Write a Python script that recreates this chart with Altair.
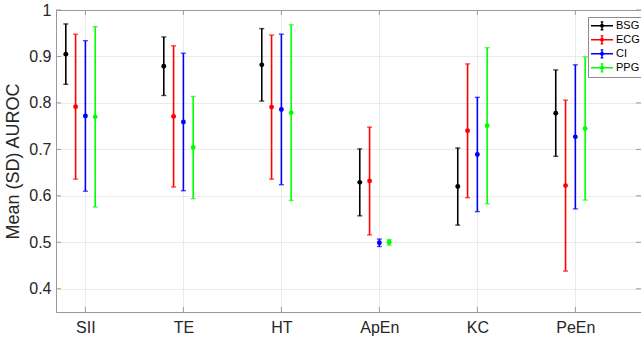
import json
import altair as alt
import pandas as pd

# ---- data ----
metrics = ["SII", "TE", "HT", "ApEn", "KC", "PeEn"]
signals = ["BSG", "ECG", "CI", "PPG"]
offsets = [-0.2, -0.1, 0.0, 0.1]
colors = ["#000000", "#ff0000", "#0000ff", "#00ff00"]

bsg_mean = [0.905, 0.879, 0.882, 0.629, 0.620, 0.778]
bsg_sd = [0.065, 0.063, 0.078, 0.072, 0.083, 0.093]
ecg_mean = [0.792, 0.771, 0.791, 0.632, 0.740, 0.622]
ecg_sd = [0.156, 0.152, 0.155, 0.116, 0.144, 0.184]
ci_mean = [0.772, 0.759, 0.786, 0.499, 0.689, 0.727]
ci_sd = [0.162, 0.148, 0.162, 0.008, 0.123, 0.155]
ppg_mean = [0.770, 0.704, 0.779, 0.500, 0.751, 0.745]
ppg_sd = [0.194, 0.110, 0.189, 0.006, 0.168, 0.154]

y_ticks = [0.4, 0.5, 0.6, 0.7, 0.8, 0.9, 1.0]
x_ticks = [1, 2, 3, 4, 5, 6]

means = [bsg_mean, ecg_mean, ci_mean, ppg_mean]
sds = [bsg_sd, ecg_sd, ci_sd, ppg_sd]

rows = []
for s, sig in enumerate(signals):
    for i, m in enumerate(metrics):
        mu = means[s][i]
        sd = sds[s][i]
        rows.append({"metric": m, "signal": sig, "x": x_ticks[i] + offsets[s],
                     "mean": mu, "lo": mu - sd, "hi": mu + sd})
df = pd.DataFrame(rows)

W, H = 585, 302
AX = "#9a9a9a"
TXT = "#262626"
FONT = "Liberation Sans"

label_expr = "%s[round(datum.value) - 1]" % json.dumps(metrics)

x_scale = alt.Scale(domain=[0.7, 6.67], nice=False, zero=False)
y_scale = alt.Scale(domain=[0.35, 1.0], nice=False, zero=False)

x_enc = alt.X("x:Q", scale=x_scale,
              axis=alt.Axis(values=x_ticks, labelExpr=label_expr, title=None,
                            ticks=False, labelPadding=7, labelFontSize=16,
                            labelColor=TXT, labelFont=FONT, grid=True,
                            gridColor="#ebebeb", domainColor=AX))
y_axis = alt.Axis(values=y_ticks, format=".1~f", title="Mean (SD) AUROC",
                  ticks=False, labelPadding=5, labelFontSize=16, labelColor=TXT,
                  labelFont=FONT, titleFontSize=18, titleFont=FONT,
                  titleColor=TXT, titleFontWeight="normal", titlePadding=6,
                  grid=True, gridColor="#ebebeb", domainColor=AX)

legend_path = ("M-1,0H1M0,-0.36V0.36M-0.12,-0.36H0.12M-0.12,0.36H0.12"
               "M-0.16,0L0,-0.16L0.16,0L0,0.16Z")
color_enc = alt.Color("signal:N", scale=alt.Scale(domain=signals, range=colors),
                      legend=alt.Legend(title=None, orient="none", legendX=532,
                                        legendY=7, symbolType=legend_path,
                                        symbolSize=484, symbolStrokeWidth=1.4,
                                        clipHeight=13.6, rowPadding=0,
                                        labelFontSize=11, labelFont=FONT,
                                        labelColor="#000000", labelOffset=2,
                                        padding=2, strokeColor="#8c8c8c",
                                        fillColor="#ffffff"))

base = alt.Chart(df)
bars = base.mark_rule(strokeWidth=1.6).encode(
    x=x_enc, y=alt.Y("lo:Q", scale=y_scale, axis=y_axis), y2="hi:Q", color=color_enc)
cap_lo = base.mark_tick(orient="horizontal", size=5, thickness=1.4).encode(
    x="x:Q", y="lo:Q", color=alt.Color("signal:N", legend=None))
cap_hi = base.mark_tick(orient="horizontal", size=5, thickness=1.4).encode(
    x="x:Q", y="hi:Q", color=alt.Color("signal:N", legend=None))
pts = base.mark_circle(size=24, opacity=1).encode(
    x="x:Q", y="mean:Q", color=alt.Color("signal:N", legend=None))

# box decorations (inward ticks, top border)
xt = pd.DataFrame({"x": x_ticks})
yt = pd.DataFrame({"lo": y_ticks})
one = pd.DataFrame({"a": [0]})
bot_ticks = alt.Chart(xt).mark_rule(color=AX, strokeWidth=1).encode(
    x="x:Q", y=alt.value(H - 5), y2=alt.value(H))
top_ticks = alt.Chart(xt).mark_rule(color=AX, strokeWidth=1).encode(
    x="x:Q", y=alt.value(0), y2=alt.value(5))
left_ticks = alt.Chart(yt).mark_rule(color=AX, strokeWidth=1).encode(
    y="lo:Q", x=alt.value(0), x2=alt.value(5))
right_ticks = alt.Chart(yt).mark_rule(color=AX, strokeWidth=1).encode(
    y="lo:Q", x=alt.value(W - 5), x2=alt.value(W))
top_border = alt.Chart(one).mark_rule(color=AX, strokeWidth=1).encode(
    x=alt.value(0), x2=alt.value(W), y=alt.value(0.5))

chart = alt.layer(bars, cap_lo, cap_hi, pts, bot_ticks, top_ticks, left_ticks,
                  right_ticks, top_border).properties(
    width=W, height=H,
    autosize=alt.AutoSizeParams(type="none"),
    padding={"left": 56, "top": 10, "right": 0, "bottom": 27},
    background="#ffffff",
).configure_view(stroke=None).configure(font=FONT)

chart.save("out.html", embed_options={"renderer": "svg", "actions": False})
